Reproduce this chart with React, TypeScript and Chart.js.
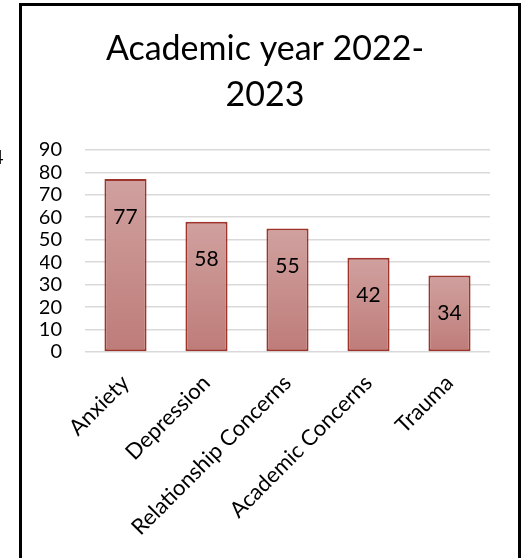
import React, { useEffect, useRef } from "react";
import { Chart, registerables } from "chart.js";

Chart.register(...registerables);

const categories: string[] = ["Anxiety", "Depression", "Relationship Concerns", "Academic Concerns", "Trauma"];
const values: number[] = [77, 58, 55, 42, 34];
const titleLines: string[] = ["Academic year 2022-", "2023"];
const yMin = 0;
const yMax = 90;
const yStep = 10;

const FONT = "Lato, 'Open Sans', sans-serif";

const valueLabels = {
  id: "valueLabels",
  afterDatasetsDraw(chart: any) {
    const ctx = chart.ctx;
    const meta = chart.getDatasetMeta(0);
    ctx.save();
    ctx.font = `21px ${FONT}`;
    ctx.fillStyle = "#000";
    ctx.textAlign = "center";
    ctx.textBaseline = "middle";
    meta.data.forEach((bar: any, i: number) => {
      const v = chart.data.datasets[0].data[i];
      ctx.fillText(String(v), bar.x, bar.y + 38);
    });
    ctx.restore();
  },
};

export default function App() {
  const ref = useRef<HTMLCanvasElement | null>(null);

  useEffect(() => {
    if (!ref.current) return;
    const chart = new Chart(ref.current, {
      type: "bar",
      data: {
        labels: categories,
        datasets: [
          {
            data: values,
            backgroundColor: (c: any) => {
              const ch = c.chart;
              const y = ch.scales && ch.scales.y;
              if (!y || c.raw == null) return "#C88E8B";
              const top = y.getPixelForValue(c.raw);
              const bottom = y.getPixelForValue(0);
              if (!isFinite(top) || !isFinite(bottom) || top === bottom) return "#C88E8B";
              const g = ch.ctx.createLinearGradient(0, top, 0, bottom);
              g.addColorStop(0, "#D0A19F");
              g.addColorStop(1, "#BE7C79");
              return g;
            },
            borderColor: "#9E352D",
            borderWidth: 2,
            borderSkipped: false,
            barPercentage: 0.52,
            categoryPercentage: 1,
          },
        ],
      },
      options: {
        responsive: false,
        animation: false,
        layout: { padding: { left: 40, right: 35, top: 0, bottom: 0 } },
        plugins: {
          legend: { display: false },
          tooltip: { enabled: false },
          title: {
            display: true,
            text: titleLines,
            color: "#000",
            font: { family: FONT, size: 34, weight: "normal", lineHeight: 1.35 },
            padding: { top: 26, bottom: 32 },
          },
        },
        scales: {
          x: {
            grid: { display: false },
            border: { display: false },
            ticks: {
              color: "#000",
              font: { family: FONT, size: 22 },
              minRotation: 45,
              maxRotation: 45,
              padding: 10,
              autoSkip: false,
            },
            afterFit: (s: any) => {
              s.height = 206;
            },
          },
          y: {
            min: yMin,
            max: yMax,
            grid: { color: "#D9D9D9", lineWidth: 1.5, drawTicks: false },
            border: { display: false },
            ticks: {
              stepSize: yStep,
              color: "#000",
              font: { family: FONT, size: 20 },
              padding: 23,
              autoSkip: false,
            },
            afterFit: (s: any) => {
              s.width = 45;
            },
          },
        },
      },
      plugins: [valueLabels],
    });
    return () => chart.destroy();
  }, []);

  return (
    <div
      style={{
        position: "fixed",
        left: 0,
        top: 0,
        width: 525,
        height: 558,
        overflow: "hidden",
        background: "#fff",
      }}
    >
      <canvas ref={ref} width={525} height={558} style={{ position: "absolute", left: 0, top: 0, width: 525, height: 558 }} />
      <div
        style={{
          position: "absolute",
          left: 19,
          top: 3,
          width: 502,
          height: 620,
          border: "3px solid #000",
          boxSizing: "border-box",
          pointerEvents: "none",
        }}
      />
      <div
        style={{
          position: "absolute",
          left: -8,
          top: 146,
          fontFamily: FONT,
          fontSize: 20,
          color: "#000",
          lineHeight: "20px",
        }}
      >
        4
      </div>
    </div>
  );
}
